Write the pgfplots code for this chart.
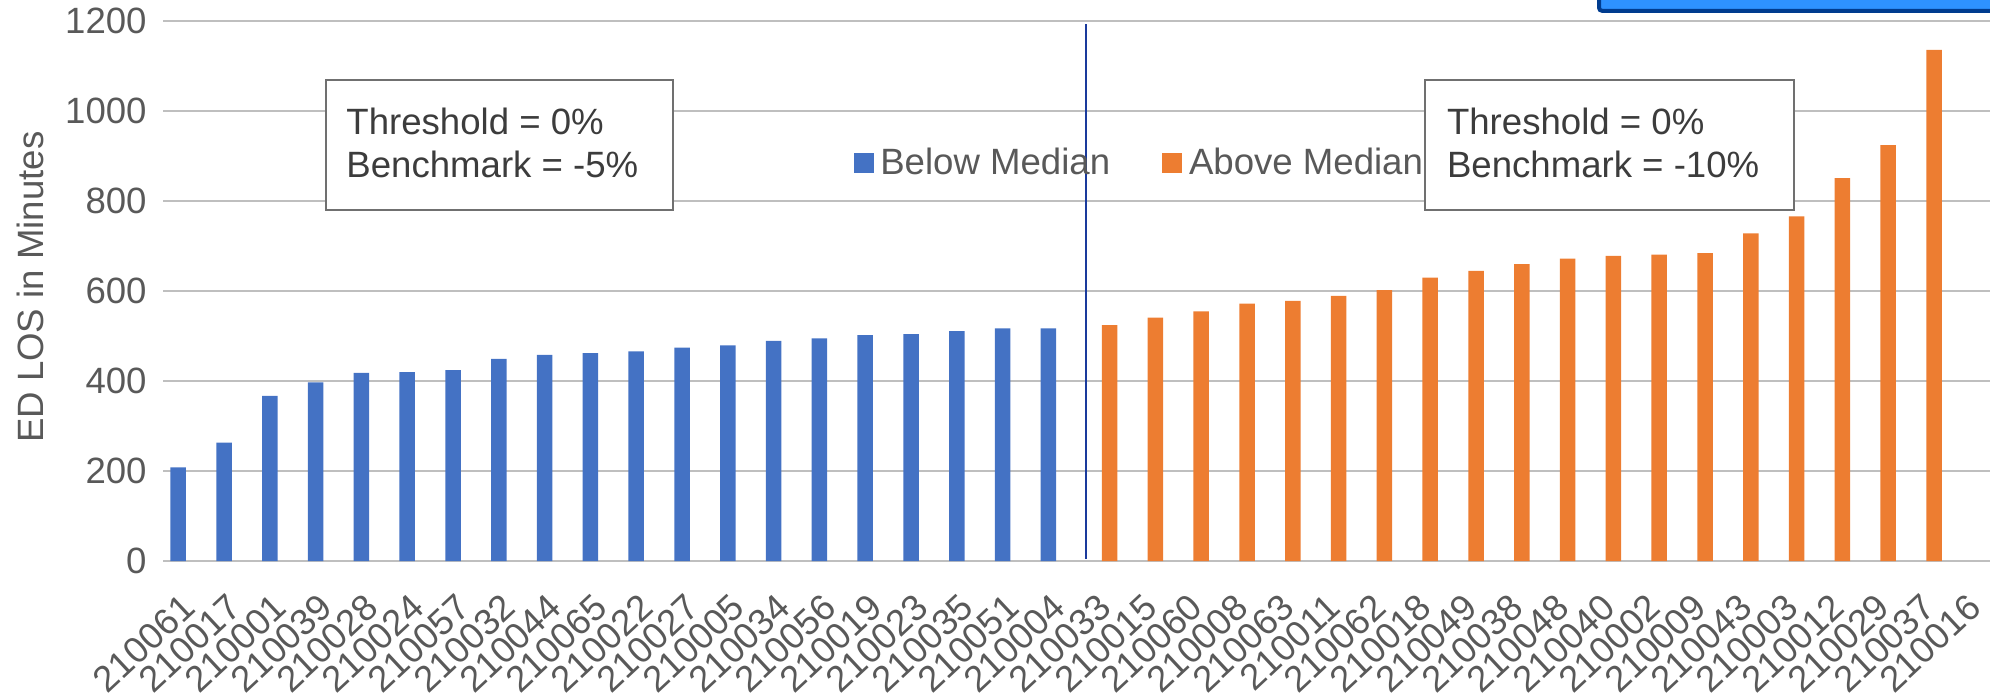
\documentclass[border=0pt]{standalone}
\usepackage{fontspec}
\setmainfont{Liberation Sans}
\usepackage{pgfplots}
\pgfplotsset{compat=1.18}
\definecolor{barblue}{HTML}{4472C4}
\definecolor{barorange}{HTML}{ED7D31}
\definecolor{gridgray}{HTML}{BFBFBF}
\definecolor{tickgray}{HTML}{595959}
\definecolor{boxtext}{HTML}{3C3C3C}
\definecolor{boxborder}{HTML}{707070}
\definecolor{navyline}{HTML}{1A3A9C}
\definecolor{topfill}{HTML}{2E92FF}
\definecolor{topborder}{HTML}{003C8F}
\newcommand\f{\fontsize{18.3}{22}\selectfont}
\begin{document}
\begin{tikzpicture}
\begin{axis}[
  at={(81.5pt,68.5pt)}, anchor=south west,
  scale only axis, width=916pt, height=270pt,
  xmin=-0.5, xmax=39.5, ymin=0, ymax=1200,
  ybar, bar width=7.75pt,
  ytick={0,200,...,1200},
  xtick={0,...,39},
  xticklabels={210061,210017,210001,210039,210028,210024,210057,210032,210044,210065,210022,210027,210005,210034,210056,210019,210023,210035,210051,210004,210033,210015,210060,210008,210063,210011,210062,210018,210049,210038,210048,210040,210002,210009,210043,210003,210012,210029,210037,210016},
  /pgf/number format/assume math mode=true,
  /pgf/number format/1000 sep={},
  axis line style={draw=none},
  tick style={draw=none},
  ymajorgrids, grid style={gridgray, line width=1.4pt},
  yticklabel style={font=\f, text=tickgray, anchor=east, inner sep=0pt, xshift=-8pt},
  xticklabel style={font=\f, text=tickgray, xshift=1.5pt, yshift=-16pt, rotate=43, anchor=east, inner sep=0pt},
  ylabel={ED LOS in Minutes},
  ylabel style={at={(axis description cs:-0.0721,0.507)}, anchor=center, font=\f, text=tickgray},
  legend image code/.code={\fill[#1] (0pt,-5pt) rectangle (10pt,5pt);},
  legend style={at={(axis cs:14.577,884)}, anchor=west, draw=none, fill=none,
    inner sep=0pt, outer sep=0pt, font=\f, text=tickgray,
    legend columns=2,
    nodes={inner sep=0pt, anchor=west},
    /tikz/every odd column/.append style={column sep=3.4pt},
    /tikz/every even column/.append style={column sep=26pt}},
]
\addplot[fill=barblue, draw=none, bar shift=-3.85pt] coordinates {
(0,208) (1,263) (2,367) (3,397) (4,418) (5,420) (6,424) (7,449) (8,458) (9,462)
(10,466) (11,474) (12,479) (13,489) (14,495) (15,502) (16,504) (17,511) (18,517) (19,517)};
\addlegendentry{Below Median}
\addplot[fill=barorange, draw=none, bar shift=3.85pt] coordinates {
(20,524) (21,541) (22,555) (23,572) (24,578) (25,589) (26,602) (27,630) (28,645) (29,660)
(30,672) (31,678) (32,681) (33,684) (34,728) (35,766) (36,851) (37,924) (38,1136)};
\addlegendentry{Above Median}
\draw[navyline, line width=1pt] (axis cs:19.66,4) -- (axis cs:19.66,1193);
\end{axis}
% text boxes
\draw[boxborder, line width=1pt, fill=white] (163pt,309pt) rectangle (336.5pt,244pt);
\node[anchor=base west, inner sep=0pt, font=\f, text=boxtext] at (173pt,282pt) {Threshold = 0\%};
\node[anchor=base west, inner sep=0pt, font=\f, text=boxtext] at (173pt,260.5pt) {Benchmark = -5\%};
\draw[boxborder, line width=1pt, fill=white] (712.5pt,309pt) rectangle (897pt,244pt);
\node[anchor=base west, inner sep=0pt, font=\f, text=boxtext] at (723.3pt,282pt) {Threshold = 0\%};
\node[anchor=base west, inner sep=0pt, font=\f, text=boxtext] at (723.3pt,260.5pt) {Benchmark = -10\%};
% partial box at top right
\draw[topborder, line width=2pt, fill=topfill, rounded corners=1.5pt] (799.5pt,343.6pt) rectangle (1005pt,360pt);
\pgfresetboundingbox
\useasboundingbox (0,0) rectangle (995pt,349pt);
\end{tikzpicture}
\end{document}
